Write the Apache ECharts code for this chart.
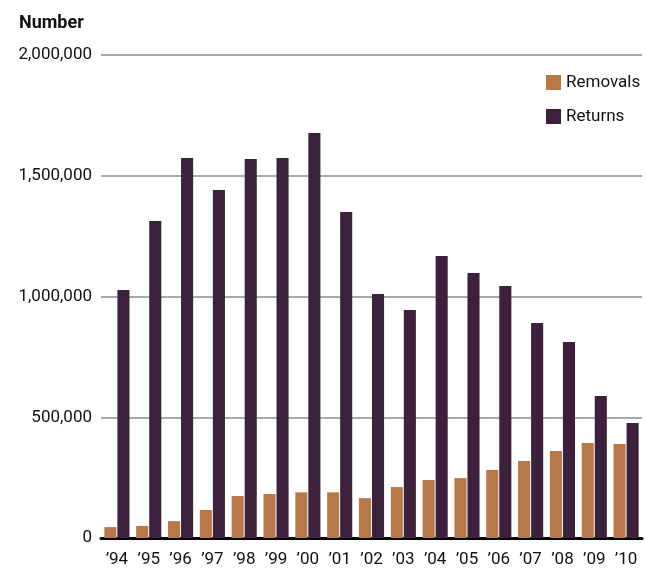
<!DOCTYPE html>
<html>
<head>
<meta charset="utf-8">
<script src="https://cdn.jsdelivr.net/npm/echarts@6/dist/echarts.min.js"></script>
<style>
html,body{margin:0;padding:0;background:#fff;}
#chart{width:646px;height:569px;}
</style>
</head>
<body>
<div id="chart"></div>
<script>
const categories = ["’94","’95","’96","’97","’98","’99","’00","’01","’02","’03","’04","’05","’06","’07","’08","’09","’10"];
const removals = [45000,50000,70000,116000,174000,182000,189000,189000,165000,211000,240000,248000,282000,319000,360000,393000,389000];
const returns = [1027000,1313000,1574000,1441000,1569000,1573000,1677000,1350000,1010000,944000,1168000,1097000,1043000,890000,812000,588000,476000];
const yTicks = [0,500000,1000000,1500000,2000000];

const FONT = 'Roboto,sans-serif';
const chart = echarts.init(document.getElementById('chart'), null, {renderer:'canvas'});
chart.setOption({
  animation:false,
  backgroundColor:'#fff',
  title:{text:'Number',left:19,top:14,padding:0,textStyle:{fontFamily:FONT,fontSize:18,fontWeight:'bold',color:'#111'}},
  legend:{
    orient:'vertical',left:546,top:74,padding:0,itemWidth:15,itemHeight:15,itemGap:17,
    icon:'rect',
    textStyle:{fontFamily:FONT,fontSize:17,color:'#111',lineHeight:15,padding:[0,0,0,0]},
    data:['Removals','Returns']
  },
  grid:{left:101,right:4,top:55,bottom:31,containLabel:false},
  xAxis:{
    type:'category',data:categories,
    axisLine:{lineStyle:{color:'#000',width:3}},
    axisTick:{show:false},
    axisLabel:{interval:0,fontFamily:FONT,fontSize:17,color:'#111',margin:13}
  },
  yAxis:{
    type:'value',min:yTicks[0],max:yTicks[yTicks.length-1],interval:500000,
    axisLine:{show:false},axisTick:{show:false},
    splitLine:{lineStyle:{color:'#aaaaaa',width:2}},
    axisLabel:{fontFamily:FONT,fontSize:17,color:'#111',margin:9,
      formatter:v=>v.toLocaleString('en-US')}
  },
  series:[
    {name:'Removals',type:'bar',data:removals,itemStyle:{color:'#b7794a'},barGap:'8%',barCategoryGap:'21%'},
    {name:'Returns',type:'bar',data:returns,itemStyle:{color:'#3c213c'},barGap:'8%',barCategoryGap:'21%'}
  ]
});
</script>
</body>
</html>
